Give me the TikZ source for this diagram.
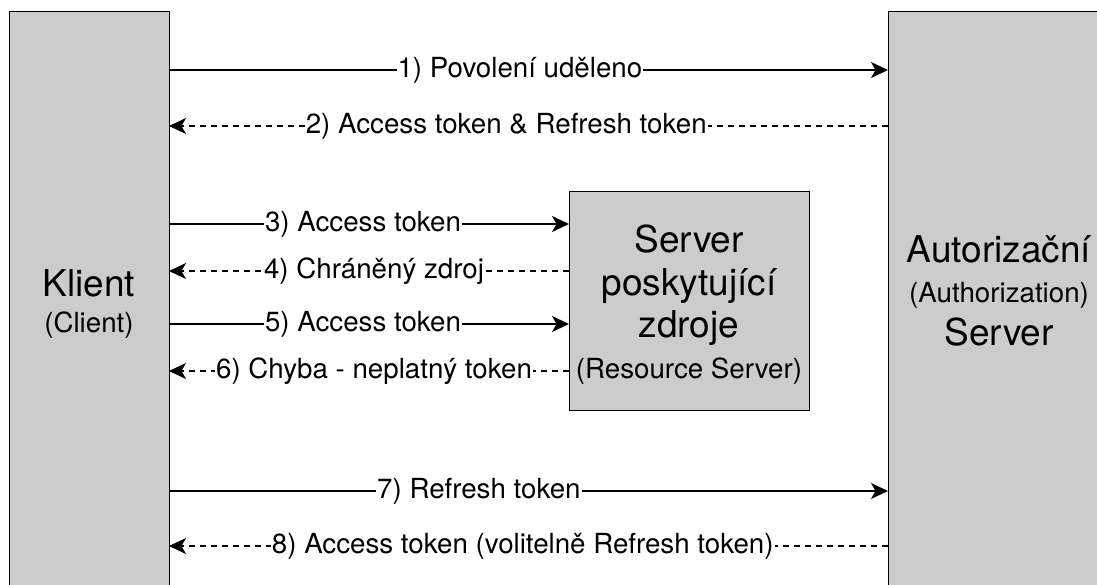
\documentclass[tikz,border=0pt]{standalone}
\usepackage{fontspec}
\setmainfont{TeX Gyre Heros}
\usetikzlibrary{arrows.meta}
\tikzset{
  box/.style={draw=black, line width=1.3pt, fill=boxgray},
  msg/.style={line width=1.3pt, -{Stealth[length=17pt,width=16pt,inset=4.5pt]}},
  reply/.style={msg, dash pattern=on 6pt off 5pt},
  lbl/.style={fill=white, inner sep=1pt, font=\fontsize{27.7}{33}\selectfont},
  big/.style={anchor=base, inner sep=0pt, font=\fontsize{37}{44}\selectfont},
  sub/.style={anchor=base, inner sep=0pt, font=\fontsize{27.7}{33}\selectfont},
}
\definecolor{boxgray}{HTML}{CCCCCC}
\begin{document}
\begin{tikzpicture}[x=1pt,y=-1pt]
\useasboundingbox (0,0) rectangle (1097,585);
\clip (0,0) rectangle (1097,585);
% boxes
\node[box, anchor=north west, minimum width=160pt, minimum height=600pt, inner sep=0pt] (L) at (9,11) {};
\node[box, anchor=north west, minimum width=232pt, minimum height=600pt, inner sep=0pt] (R) at (888,11) {};
\node[box, anchor=north west, minimum width=240pt, minimum height=219pt, inner sep=0pt] (M) at (569,191) {};
% box texts
\node[big] (tK) at (89,296) {Klient};
\node[sub] (tC) at (89,332) {(Client)};
\node[big] (tS1) at (689,253) {Server};
\node[big] (tS2) at (689,295) {poskytující};
\node[big] (tS3) at (689,337) {zdroje};
\node[sub] (tS4) at (689,378) {(Resource Server)};
\node[big] (tA1) at (999,263) {Autorizační};
\node[sub] (tA2) at (999,302) {(Authorization)};
\node[big] (tA3) at (999,345) {Server};
% coordinates on box edges
\coordinate (l1) at (169,70);   \coordinate (r1) at (888,70);
\coordinate (l2) at (169,126);  \coordinate (r2) at (888,126);
\coordinate (l3) at (169,224);  \coordinate (m3) at (569,224);
\coordinate (l4) at (169,271);  \coordinate (m4) at (569,271);
\coordinate (l5) at (169,324);  \coordinate (m5) at (569,324);
\coordinate (l6) at (169,371);  \coordinate (m6) at (569,371);
\coordinate (l7) at (169,491);  \coordinate (r7) at (888,491);
\coordinate (l8) at (169,546);  \coordinate (r8) at (888,546);
% messages
\draw[msg] (l1) -- node[lbl, pos=0.488] (e1) {1) Povolení uděleno} (r1);
\draw[reply] (r2) -- node[lbl, pos=0.531] (e2) {2) Access token \& Refresh token} (l2);
\draw[msg] (l3) -- node[lbl, pos=0.485] (e3) {3) Access token} (m3);
\draw[reply] (m4) -- node[lbl, pos=0.4875] (e4) {4) Chráněný zdroj} (l4);
\draw[msg] (l5) -- node[lbl, pos=0.485] (e5) {5) Access token} (m5);
\draw[reply] (m6) -- node[lbl, pos=0.4875] (e6) {6) Chyba - neplatný token} (l6);
\draw[msg] (l7) -- node[lbl, pos=0.431] (e7) {7) Refresh token} (r7);
\draw[reply] (r8) -- node[lbl, pos=0.508] (e8) {8) Access token (volitelně Refresh token)} (l8);
\end{tikzpicture}
\end{document}
